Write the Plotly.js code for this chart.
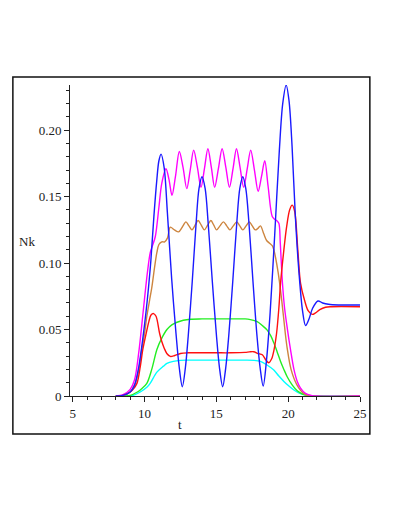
<!DOCTYPE html>
<html>
<head>
<meta charset="utf-8">
<script src="https://cdn.plot.ly/plotly-3.0.1.min.js"></script>
<style>
  body { margin: 0; background: #fff; }
  #graph { width: 395px; height: 511px; }
</style>
</head>
<body>
<div id="graph"></div>
<script>
// values (t, Nk) for each curve
const tBlue = [8, 8.5, 9, 9.3, 9.6, 9.9, 10.1, 10.28, 10.44, 10.65, 10.85, 11.0, 11.15, 11.37, 11.59, 11.89, 12.19, 12.41, 12.63,
  12.84, 13.04, 13.32, 13.59, 13.79, 14.0, 14.22, 14.43, 14.72, 15.01, 15.22, 15.44,
  15.65, 15.86, 16.14, 16.42, 16.63, 16.84, 17.05, 17.27, 17.55, 17.83, 18.05, 18.26,
  18.5, 18.74, 19.06, 19.38, 19.62, 19.86, 20.06, 20.27, 20.5, 20.75, 21.0, 21.21,
  21.45, 21.7, 22.07, 22.4, 22.8, 23.5, 25];
const nkBlue = [0, 0.0005, 0.003, 0.008, 0.022, 0.045, 0.063, 0.082, 0.102, 0.135, 0.162, 0.177, 0.182, 0.1715, 0.138, 0.088, 0.047, 0.022, 0.007,
  0.021, 0.045, 0.086, 0.130, 0.156, 0.165, 0.156, 0.130, 0.086, 0.045, 0.021, 0.007,
  0.021, 0.045, 0.086, 0.130, 0.156, 0.165, 0.156, 0.130, 0.086, 0.045, 0.021, 0.0075,
  0.028, 0.062, 0.121, 0.184, 0.220, 0.234, 0.222, 0.188, 0.135, 0.093, 0.064, 0.053,
  0.058, 0.066, 0.0715, 0.070, 0.069, 0.0685, 0.0685];

const tMagenta = [8, 8.5, 9, 9.3, 9.6, 9.9, 10.2, 10.4, 10.55, 10.75, 11.0, 11.2, 11.49, 11.7, 11.91, 12.15, 12.42, 12.68, 12.94,
  13.18, 13.42, 13.68, 13.93, 14.17, 14.41, 14.65, 14.88, 15.14, 15.4, 15.66, 15.91, 16.16, 16.4, 16.65, 16.9,
  17.15, 17.39, 17.65, 17.91, 18.14, 18.37, 18.6, 18.89, 19.05, 19.2, 19.35, 19.45, 19.6, 19.75, 19.95, 20.16,
  20.4, 20.63, 20.86, 21.2, 21.6, 22, 25];
const nkMagenta = [0, 0.001, 0.005, 0.012, 0.033, 0.063, 0.093, 0.108, 0.113, 0.12, 0.142, 0.16, 0.171, 0.163, 0.151, 0.165, 0.184, 0.172, 0.156,
  0.17, 0.185, 0.172, 0.157, 0.171, 0.186, 0.172, 0.157, 0.171, 0.186, 0.172, 0.157, 0.171, 0.186, 0.172, 0.157,
  0.171, 0.185, 0.17, 0.154, 0.165, 0.177, 0.158, 0.135, 0.133, 0.132, 0.13, 0.115, 0.085, 0.066, 0.05, 0.035,
  0.02, 0.011, 0.006, 0.002, 0.0005, 0, 0];

const tBrown = [8, 8.5, 9, 9.35, 9.6, 9.81, 10.0, 10.16, 10.35, 10.51, 10.7, 10.86, 11.0, 11.2, 11.4, 11.6, 11.79, 12.08, 12.37,
  12.62, 12.88, 13.09, 13.3, 13.52, 13.73, 13.95, 14.16, 14.39, 14.62, 14.82, 15.02, 15.25, 15.49, 15.72, 15.94,
  16.18, 16.42, 16.63, 16.84, 17.07, 17.29, 17.5, 17.7, 17.88, 18.07, 18.3, 18.5, 18.7, 18.9, 19.0, 19.3, 19.55,
  19.8, 19.93, 20.2, 20.58, 21.07, 21.5, 25];
const nkBrown = [0, 0.0005, 0.003, 0.0095, 0.02, 0.035, 0.047, 0.06, 0.072, 0.082, 0.097, 0.108, 0.114, 0.116, 0.116, 0.119, 0.127, 0.125, 0.1235,
  0.127, 0.131, 0.128, 0.125, 0.1285, 0.132, 0.1285, 0.125, 0.1285, 0.132, 0.1285, 0.125, 0.128, 0.131, 0.128, 0.125,
  0.128, 0.131, 0.128, 0.125, 0.128, 0.131, 0.128, 0.125, 0.126, 0.128, 0.122, 0.117, 0.115, 0.113, 0.11, 0.093, 0.072,
  0.047, 0.036, 0.02, 0.009, 0.002, 0, 0];

const tRed = [8, 8.5, 9, 9.2, 9.47, 9.7, 9.88, 10.11, 10.3, 10.45, 10.63, 10.8, 11.05, 11.2, 11.37, 11.55, 11.79, 12.1, 12.5,
  13, 14, 15, 16, 17, 17.3, 17.6, 17.9, 18.2, 18.45, 18.65, 18.85, 19.0, 19.19, 19.35, 19.47, 19.7, 19.9, 20.1, 20.28,
  20.45, 20.67, 20.86, 21.14, 21.4, 21.68, 21.9, 22.2, 22.6, 23, 25];
const nkRed = [0, 0.0005, 0.003, 0.005, 0.0095, 0.022, 0.035, 0.047, 0.056, 0.061, 0.062, 0.06, 0.047, 0.041, 0.036, 0.032, 0.0298, 0.0305, 0.032,
  0.0325, 0.0325, 0.0325, 0.0325, 0.0328, 0.0332, 0.0333, 0.032, 0.031, 0.027, 0.025, 0.028, 0.034, 0.047, 0.066, 0.085, 0.11, 0.128, 0.14, 0.1436,
  0.139, 0.11, 0.085, 0.072, 0.064, 0.0614, 0.0625, 0.065, 0.0668, 0.0672, 0.0672];

const tGreen = [8, 8.5, 9, 9.5, 9.8, 10.16, 10.5, 10.86, 11.2, 11.56, 11.9, 12.26, 12.7, 13.2, 14, 16, 17, 17.37, 17.84, 18.2, 18.54,
  18.8, 19.0, 19.24, 19.47, 19.7, 19.93, 20.3, 20.63, 21.0, 21.4, 22, 25];
const nkGreen = [0, 0, 0.0005, 0.003, 0.0055, 0.0095, 0.02, 0.035, 0.0435, 0.05, 0.0535, 0.0555, 0.057, 0.0578, 0.058, 0.058, 0.058, 0.0575, 0.056, 0.053, 0.0496,
  0.045, 0.04, 0.033, 0.026, 0.02, 0.0145, 0.008, 0.004, 0.0015, 0.0004, 0, 0];

const tCyan = [8, 8.5, 9.2, 9.7, 10.16, 10.39, 10.86, 11.32, 11.56, 12.0, 12.5, 13, 14, 17, 17.6, 18.07, 18.5, 19.0, 19.35, 19.7,
  20.05, 20.4, 20.7, 21.0, 21.5, 25];
const nkCyan = [0, 0, 0.0005, 0.003, 0.0065, 0.0095, 0.018, 0.0225, 0.0245, 0.026, 0.0268, 0.027, 0.027, 0.027, 0.0268, 0.026, 0.0235, 0.0195, 0.015, 0.011,
  0.0075, 0.0045, 0.0025, 0.0012, 0.0003, 0];

const yTickVals = [0, 0.05, 0.1, 0.15, 0.2];
const yTickText = ['0', '0.05', '0.10', '0.15', '0.20'];
const xTickVals = [5, 10, 15, 20, 25];

function curve(x, y, color) {
  return {
    x: x, y: y, mode: 'lines', showlegend: false, hoverinfo: 'skip',
    line: { color: color, width: 1.4, shape: 'spline', smoothing: 0.9 }
  };
}

const traces = [
  curve(tCyan, nkCyan, '#00ffff'),
  curve(tGreen, nkGreen, '#22ee22'),
  curve(tBrown, nkBrown, '#cd853f'),
  curve(tMagenta, nkMagenta, '#ff00ff'),
  curve(tRed, nkRed, '#ff1010'),
  curve(tBlue, nkBlue, '#1a1aff')
];

const serif = { family: '"Liberation Serif", "Times New Roman", serif', size: 13, color: '#222' };

const layout = {
  width: 395, height: 511,
  margin: { l: 70, r: 35, t: 85, b: 115 },
  paper_bgcolor: '#fff', plot_bgcolor: '#fff',
  font: serif,
  xaxis: {
    range: [4.81, 25], showgrid: false, zeroline: false,
    showline: true, linecolor: '#222', linewidth: 1,
    tickvals: xTickVals, ticks: 'outside', ticklen: 5, tickcolor: '#222',
    minor: { dtick: 1, ticks: 'outside', ticklen: 3, tickcolor: '#222' },
    tickfont: serif
  },
  yaxis: {
    range: [0, 0.234], showgrid: false, zeroline: false,
    showline: true, linecolor: '#222', linewidth: 1,
    tickvals: yTickVals, ticktext: yTickText, ticks: 'outside', ticklen: 5, tickcolor: '#222',
    minor: { dtick: 0.01, ticks: 'outside', ticklen: 3, tickcolor: '#222' },
    tickfont: serif
  },
  annotations: [
    { text: 'Nk', xref: 'paper', yref: 'paper', x: -0.147, y: 0.496, xanchor: 'center', yanchor: 'middle',
      showarrow: false, font: serif },
    { text: 't', xref: 'paper', yref: 'paper', x: 0.379, y: -0.093, xanchor: 'center', yanchor: 'middle',
      showarrow: false, font: serif }
  ],
  shapes: [
    { type: 'rect', xref: 'paper', yref: 'paper', x0: -0.197, x1: 1.034, y0: -0.122, y1: 1.026,
      line: { color: '#111', width: 1.5 } }
  ]
};

Plotly.newPlot('graph', traces, layout, { displayModeBar: false, staticPlot: true });
</script>
</body>
</html>
